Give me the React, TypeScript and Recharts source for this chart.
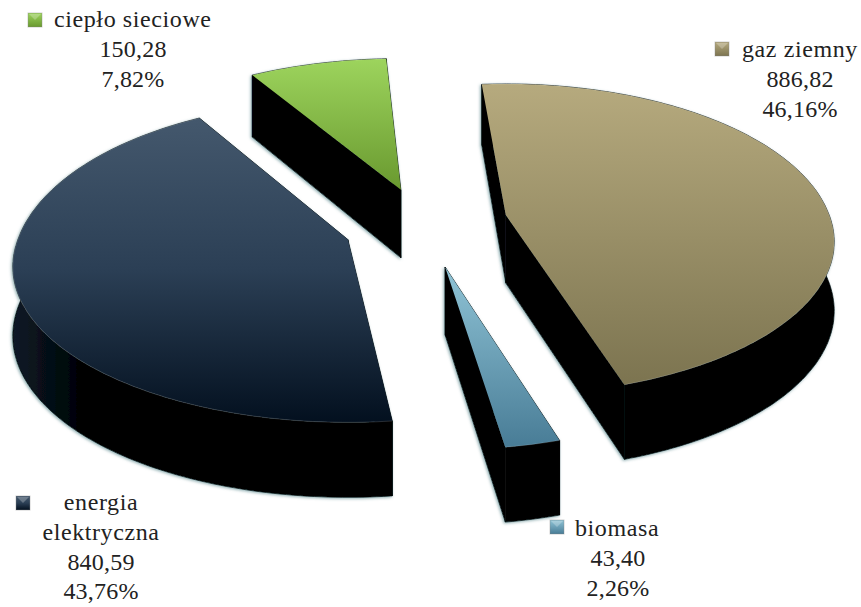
import { PieChart, Pie, Cell } from "recharts";

const categories = ["gaz ziemny", "biomasa", "energia elektryczna", "ciepło sieciowe"];
const values = [886.82, 43.4, 840.59, 150.28];

const chartData = categories.map((name, i) => ({ name, value: values[i] }));
const total = values.reduce((a, b) => a + b, 0);

const topColors = [
  ["#b6aa7e", "#7c7450"],
  ["#90c4d6", "#487c96"],
  ["#44586d", "#2b3f55", "#03101f"],
  ["#9dd45d", "#69992f"],
];

// where each label block sits: marker, first line and the centre of the lines below
const labelLayout = [
  { sq: [715, 42], lines: [[742, 57, "start"], [800, 87], [800, 117]] },
  { sq: [550, 520], lines: [[575, 536, "start"], [618, 566], [618, 596]] },
  { sq: [16, 496], lines: [[101, 510], [101, 540], [101, 570], [101, 599]] },
  { sq: [28, 13], lines: [[54, 27, "start"], [133, 57], [133, 87]] },
];

// per slice corrections of the projection, the 3d original is not a clean perspective
const sliceFit = [
  { dx: 0, dy: -6, hiShift: 2, loShift: 1, front: 0.965, back: 1, wide: 0.98 },
  { dx: 2, dy: 0, hiShift: 0, loShift: 0, front: 0.98, back: 1, wide: 1 },
  { dx: 0, dy: -2, hiShift: -2.3, loShift: 0, front: 0.98, back: 1.06, wide: 1 },
  { dx: 0, dy: 0, hiShift: 0, loShift: 0, front: 1, back: 1, wide: 1 },
];

const CX = 425;
const CY = 228;
const RADIUS = 330;
const TILT = 154 / 330;
const PERSPECTIVE = 0.174;
const EXPLODE_X = 82;
const EXPLODE_Y = 40;

const rad = (deg: number) => (deg * Math.PI) / 180;
const num = (v: number) => v.toFixed(2).replace(".", ",");

// one slice of the tilted disc, angles come from the Pie
const Slice3D = (props: any) => {
  const { cx, cy, outerRadius, startAngle, endAngle, midAngle, index } = props;
  const fit = sliceFit[index];
  const mid = midAngle ?? (startAngle + endAngle) / 2;
  const ax = cx + EXPLODE_X * Math.cos(rad(mid)) + fit.dx;
  const ay = cy - EXPLODE_Y * Math.sin(rad(mid)) + fit.dy;

  const drop = (v: number) => 68 - 7 * v;
  const top = (a: number) => {
    const u = Math.cos(rad(a));
    const v = Math.sin(rad(a));
    const w = 1 + PERSPECTIVE * v;
    const scale = v < 0 ? fit.front : fit.back;
    return [ax + (u * outerRadius * fit.wide) / w, ay - (v * outerRadius * TILT * scale) / w, v];
  };

  const lo = Math.min(startAngle, endAngle) + fit.loShift;
  const hi = Math.max(startAngle, endAngle) + fit.hiShift;
  const arc: number[][] = [];
  for (let a = lo; a < hi; a += 1) arc.push(top(a));
  arc.push(top(hi));

  const str = (pts: number[][]) => pts.map((p) => `${p[0].toFixed(1)},${p[1].toFixed(1)}`).join(" ");
  const down = (p: number[]) => [p[0], p[1] + drop(p[2])];
  const apex = [ax, ay, 0];
  const first = arc[0];
  const last = arc[arc.length - 1];

  return (
    <g>
      <g filter="url(#wallShadow)" stroke="#000" strokeWidth={0.8}>
        <polygon
          points={str([...arc, ...arc.map(down).reverse()])}
          fill={index === 2 ? "url(#wallDark)" : "#000"}
        />
        <polygon points={str([apex, first, down(first), down(apex)])} fill="#000" />
        <polygon points={str([apex, last, down(last), down(apex)])} fill="#000" />
      </g>
      <polygon points={str([apex, ...arc])} fill={`url(#top${index})`} />
      <polyline points={str(arc)} fill="none" stroke="#fff" strokeOpacity={0.15} strokeWidth={1} />
    </g>
  );
};

const BlockLabel = (props: any) => {
  const { index } = props;
  const share = num((values[index] / total) * 100) + "%";
  const nameLines = index === 2 ? ["energia", "elektryczna"] : [categories[index]];
  const text = [...nameLines, num(values[index]), share];
  const layout = labelLayout[index];
  return (
    <g fontFamily="'Liberation Serif', serif" fontSize={24} fill="#222">
      <rect x={layout.sq[0]} y={layout.sq[1]} width={14} height={14} fill={`url(#top${index})`} stroke="#888" strokeOpacity={0.4} />
      <path
        d={`M${layout.sq[0] + 1} ${layout.sq[1] + 1}h12l-6 6z`}
        fill="#fff"
        fillOpacity={0.25}
      />
      {text.map((t, i) => (
        <text
          key={i}
          x={layout.lines[i][0]}
          y={layout.lines[i][1]}
          letterSpacing={i < nameLines.length ? 0.6 : 0.2}
          textAnchor={(layout.lines[i][2] as any) ?? "middle"}
        >
          {t}
        </text>
      ))}
    </g>
  );
};

export default function App() {
  return (
    <div style={{ position: "absolute", left: 0, top: 0, width: 861, height: 607, background: "#fff" }}>
      <PieChart width={861} height={607} margin={{ top: 0, right: 0, bottom: 0, left: 0 }}>
        <defs>
          {topColors.map((c, i) => (
            <linearGradient key={i} id={`top${i}`} x1="0" y1="0" x2="0" y2="1">
              {c.map((col, j) => (
                <stop key={j} offset={j / (c.length - 1)} stopColor={col} />
              ))}
            </linearGradient>
          ))}
          <linearGradient id="wallDark" x1="0" y1="0" x2="1" y2="0">
            <stop offset={0} stopColor="#0b1a28" />
            <stop offset={0.2} stopColor="#000" />
            <stop offset={1} stopColor="#000" />
          </linearGradient>
          <filter id="wallShadow" x="-10%" y="-10%" width="120%" height="120%">
            <feDropShadow dx={-1} dy={1} stdDeviation={1.5} floodColor="#5f8a90" floodOpacity={0.7} />
          </filter>
        </defs>
        <Pie
          data={chartData}
          dataKey="value"
          nameKey="name"
          cx={CX}
          cy={CY}
          innerRadius={0}
          outerRadius={RADIUS}
          startAngle={93}
          endAngle={-267}
          stroke="none"
          shape={Slice3D}
          label={BlockLabel}
          labelLine={false}
          isAnimationActive={false}
        >
          {chartData.map((d, i) => (
            <Cell key={d.name} fill={topColors[i][0]} />
          ))}
        </Pie>
      </PieChart>
    </div>
  );
}
